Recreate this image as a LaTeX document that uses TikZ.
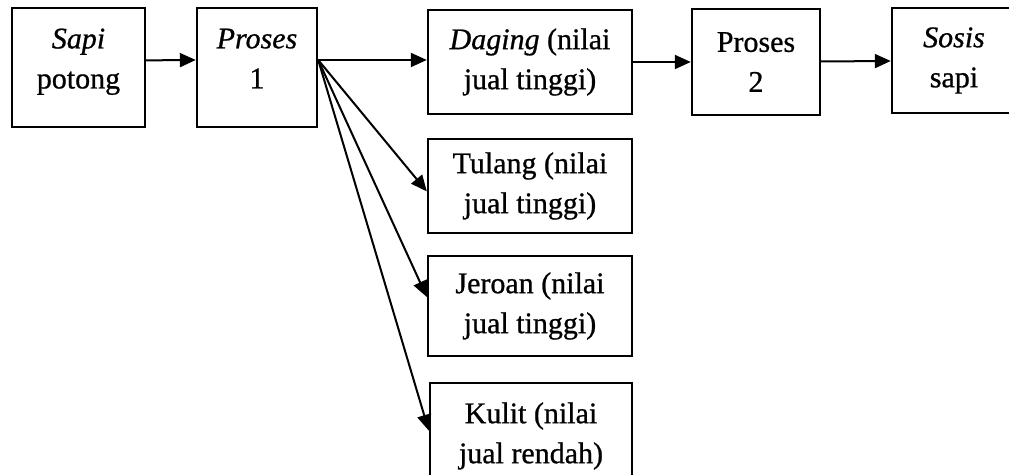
\documentclass[tikz,border=0pt]{standalone}
\usepackage{fontspec}
\setmainfont{Liberation Serif}[FakeBold=0.8]
\usepackage{tikz}
\usetikzlibrary{arrows.meta}

\begin{document}
\begin{tikzpicture}[x=0.5pt,y=-0.5pt,
  box/.style={draw,line width=1.2pt,align=center,inner sep=0pt,
    font={\fontsize{15pt}{20pt}\selectfont}},
  flow/.style={line width=1pt,-{Triangle[length=8pt,width=7pt]}}]
\useasboundingbox (0,0) rectangle (1009,475);
\node[box,text depth=9pt,minimum width=66.5pt,minimum height=59.5pt] (sapi) at (78.5,67.5) {\textit{Sapi}\\potong};
\node[box,text depth=9pt,minimum width=60pt,minimum height=59.5pt] (p1) at (257,67.5) {\textit{Proses}\\1};
\node[box,minimum width=102pt,minimum height=52pt] (daging) at (530,62) {\textit{Daging} (nilai\\jual tinggi)};
\node[box,minimum width=64pt,minimum height=53pt] (p2) at (756,62) {Proses\\2};
\node[box,minimum width=62pt,minimum height=52.5pt] (sosis) at (954,60.5) {\textit{Sosis}\\sapi};
\node[box,minimum width=102pt,minimum height=47pt] (tulang) at (530,186) {Tulang (nilai\\jual tinggi)};
\node[box,minimum width=102pt,minimum height=50pt] (jeroan) at (530,306) {Jeroan (nilai\\jual tinggi)};
\node[box,minimum width=101pt,minimum height=53pt] (kulit) at (531,436) {Kulit (nilai\\jual rendah)};
\draw[flow] (sapi.6) -- (p1.173);
\draw[flow] (p1.7) -- (p1.7 -| daging.west);
\draw[flow] (daging) -- (p2);
\draw[flow] (p2) -- (sosis);
\draw[flow] (p1.7) -- (tulang.183);
\draw[flow] (p1.7) -- (jeroan.175);
\draw[flow] (p1.7) -- (kulit.177);
\end{tikzpicture}
\end{document}
